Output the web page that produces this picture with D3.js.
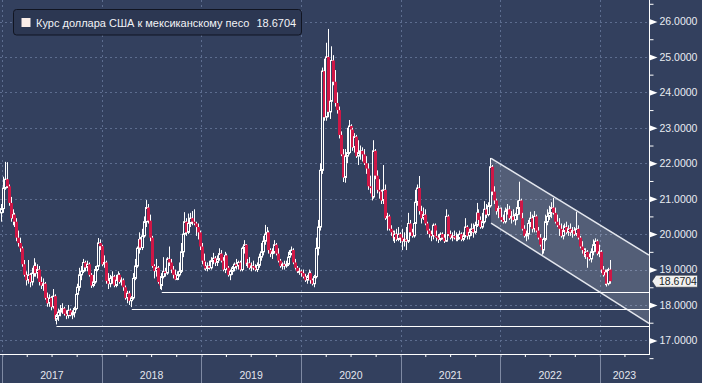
<!DOCTYPE html>
<html><head><meta charset="utf-8">
<script src="https://cdn.jsdelivr.net/npm/d3@7"></script>
<style>html,body{margin:0;padding:0;background:#33405e;overflow:hidden}svg{display:block}</style>
</head><body><svg id="c" width="702" height="383"></svg>
<script>
// ---------- DATA ----------
const firstWeek = "2016-12-26";   // Monday of the first weekly candle
// weekly candles [open, high, low, close]
const ohlc2017 = [
[20.60,20.85,20.35,20.72],[20.72,21.62,20.60,21.30],[21.30,22.04,21.25,21.55],[21.55,22.03,21.30,21.35],
[21.35,21.40,20.80,20.88],[20.88,21.05,20.35,20.45],[20.45,20.70,20.25,20.55],[20.55,20.60,20.20,20.35],
[20.35,20.45,19.80,19.90],[19.90,20.10,19.65,19.75],[19.75,19.90,19.50,19.60],[19.60,19.65,19.08,19.15],
[19.15,19.27,18.80,18.85],[18.85,18.95,18.55,18.70],[18.70,19.27,18.60,18.85],[18.85,18.90,18.50,18.65],
[18.65,19.05,18.55,18.90],[18.90,19.32,18.80,19.10],[19.10,19.20,18.80,18.90],[18.90,19.15,18.75,19.00],
[19.00,19.10,18.55,18.65],[18.65,18.80,18.45,18.55],[18.55,18.75,18.40,18.60],[18.60,18.65,18.15,18.20],
[18.20,18.35,17.95,18.05],[18.05,18.30,17.95,18.20],[18.20,18.25,17.85,17.95],[17.95,18.45,17.90,18.25],
[18.25,18.30,17.55,17.60],[17.60,17.75,17.45,17.70],[17.70,17.90,17.55,17.80],[17.80,18.00,17.68,17.85],
[17.85,18.05,17.75,17.90],[17.90,17.95,17.70,17.75],[17.75,17.85,17.60,17.70],[17.70,18.00,17.62,17.85],
[17.85,17.90,17.68,17.72],[17.72,17.85,17.60,17.78],[17.78,17.95,17.65,17.90],[17.90,18.50,17.85,18.30],
[18.30,18.60,18.20,18.50],[18.50,19.05,18.40,18.85],[18.85,19.10,18.70,18.95],[18.95,19.30,18.90,19.20],
[19.20,19.25,18.95,19.06],[19.06,19.25,18.95,19.15],[19.15,19.20,18.80,18.85],[18.85,18.90,18.48,18.55],
[18.55,18.85,18.50,18.65],[18.65,19.10,18.60,19.00],[19.00,19.30,18.95,19.10],[19.10,19.89,19.05,19.75],
[19.75,19.85,19.55,19.66]];
const ohlc2018 = [
[19.66,19.70,19.10,19.15],[19.15,19.40,19.05,19.20],[19.20,19.25,18.60,18.68],[18.68,18.90,18.45,18.60],
[18.60,18.85,18.50,18.75],[18.75,18.95,18.60,18.80],[18.80,18.85,18.50,18.55],[18.55,18.85,18.50,18.70],
[18.70,18.95,18.65,18.85],[18.85,18.90,18.60,18.65],[18.65,18.78,18.55,18.70],[18.70,18.75,18.40,18.50],
[18.50,18.55,18.15,18.20],[18.20,18.40,18.05,18.33],[18.33,18.40,18.00,18.12],[18.12,18.25,17.94,18.20],
[18.20,18.90,18.15,18.75],[18.75,19.30,18.70,19.10],[19.10,19.65,19.05,19.60],[19.60,20.05,19.45,19.85],
[19.85,19.92,19.55,19.62],[19.62,20.15,19.55,19.95],[19.95,20.50,19.90,20.35],[20.35,20.96,20.20,20.75],
[20.75,20.85,20.30,20.38],[20.38,20.55,19.80,19.90],[19.90,19.95,19.05,19.10],[19.10,19.15,18.75,18.96],
[18.96,19.30,18.80,19.05],[19.05,19.10,18.60,18.65],[18.65,18.80,18.45,18.55],[18.55,18.90,18.42,18.80],
[18.80,19.35,18.75,18.95],[18.95,19.05,18.80,18.90],[18.90,19.35,18.85,19.30],[19.30,19.65,19.10,19.20],
[19.20,19.30,18.90,19.00],[19.00,19.10,18.75,18.85],[18.85,19.00,18.70,18.72],[18.72,18.95,18.70,18.85],
[18.85,19.20,18.80,18.95],[18.95,19.75,18.90,19.50],[19.50,20.20,19.35,20.00],[20.00,20.62,19.95,20.35],
[20.35,20.45,19.95,20.05],[20.05,20.58,20.00,20.30],[20.30,20.60,20.20,20.45],[20.45,20.65,20.25,20.35],
[20.35,20.70,20.25,20.30],[20.30,20.35,19.95,20.20],[20.20,20.30,19.85,20.05],[20.05,20.10,19.55,19.65]];
const ohlc2019 = [
[19.65,19.75,19.15,19.25],[19.25,19.45,19.00,19.10],[19.10,19.22,18.97,19.03],[19.03,19.20,18.95,19.10],
[19.10,19.25,19.00,19.05],[19.05,19.35,19.00,19.25],[19.25,19.47,19.15,19.32],[19.32,19.38,19.10,19.20],
[19.20,19.40,19.10,19.30],[19.30,19.60,19.25,19.45],[19.45,19.55,19.20,19.25],[19.25,19.35,18.95,19.00],
[19.00,19.50,18.90,19.40],[19.40,19.45,19.00,19.05],[19.05,19.10,18.80,18.85],[18.85,19.00,18.70,18.95],
[18.95,19.10,18.85,19.05],[19.05,19.20,18.95,19.15],[19.15,19.30,19.00,19.10],[19.10,19.25,19.00,19.20],
[19.20,19.25,18.95,19.00],[19.00,19.65,18.95,19.60],[19.60,19.83,19.45,19.70],[19.70,19.72,19.10,19.15],
[19.15,19.30,19.05,19.18],[19.18,19.35,19.00,19.05],[19.05,19.20,18.95,19.10],[19.10,19.25,18.98,19.05],
[19.05,19.15,18.95,19.00],[19.00,19.20,18.93,19.12],[19.12,19.45,19.05,19.35],[19.35,19.75,19.25,19.50],
[19.50,19.95,19.40,19.80],[19.80,20.26,19.70,20.00],[20.00,20.20,19.85,20.05],[20.05,20.10,19.45,19.55],
[19.55,19.60,19.35,19.45],[19.45,19.60,19.30,19.50],[19.50,19.83,19.45,19.70],[19.70,19.75,19.40,19.45],
[19.45,19.60,19.20,19.25],[19.25,19.30,19.05,19.10],[19.10,19.20,19.00,19.15],[19.15,19.25,19.00,19.10],
[19.10,19.25,19.05,19.15],[19.15,19.50,19.10,19.35],[19.35,19.55,19.25,19.45],[19.45,19.65,19.40,19.55],
[19.55,19.60,19.15,19.20],[19.20,19.30,19.00,19.05],[19.05,19.10,18.90,18.95],[18.95,19.05,18.85,18.95]];
const ohlc2020 = [
[18.95,19.00,18.80,18.90],[18.90,19.00,18.75,18.80],[18.80,18.88,18.65,18.70],[18.70,18.85,18.60,18.80],
[18.80,19.00,18.70,18.90],[18.90,18.95,18.60,18.70],[18.70,18.75,18.55,18.60],[18.60,18.85,18.50,18.80],
[18.80,19.90,18.75,19.60],[19.60,20.40,19.40,20.20],[20.20,22.00,20.10,21.80],[21.80,24.70,21.70,24.60],
[24.60,24.95,23.20,23.30],[23.30,25.40,23.20,25.00],[25.00,25.79,23.30,23.45],[23.45,23.90,23.25,23.75],
[23.75,25.30,23.65,24.90],[24.90,25.05,24.20,24.30],[24.30,24.63,23.60,23.70],[23.70,24.00,23.40,23.50],
[23.50,23.60,22.70,22.80],[22.80,22.90,22.20,22.25],[22.25,22.40,21.47,21.60],[21.60,22.40,21.45,22.20],
[22.20,23.00,22.00,22.30],[22.30,23.22,22.25,23.05],[23.05,23.10,22.55,22.95],[22.95,23.00,22.35,22.45],
[22.45,22.85,22.30,22.75],[22.75,22.80,22.15,22.20],[22.20,22.65,21.95,22.30],[22.30,22.50,22.10,22.35],
[22.35,22.45,22.05,22.25],[22.25,22.40,21.95,22.00],[22.00,22.20,21.70,21.85],[21.85,22.00,21.25,21.35],
[21.35,21.65,21.15,21.30],[21.30,21.35,20.95,21.05],[21.05,22.65,21.00,22.35],[22.35,22.40,21.55,21.65],
[21.65,21.80,21.15,21.25],[21.25,21.55,21.00,21.20],[21.20,21.25,20.85,20.95],[20.95,21.95,20.85,21.25],
[21.25,21.40,20.40,20.45],[20.45,20.60,20.10,20.50],[20.50,20.55,20.10,20.15],[20.15,20.25,19.95,20.05],
[20.05,20.10,19.80,19.90],[19.90,20.10,19.75,20.00],[20.00,20.15,19.80,19.85],[19.85,20.20,19.80,20.00]];
const ohlc2021 = [
[20.00,20.05,19.75,19.90],[19.90,20.15,19.55,19.80],[19.80,20.05,19.65,19.85],[19.85,20.20,19.55,19.80],
[19.80,20.60,19.75,20.30],[20.30,20.40,19.95,20.05],[20.05,20.15,19.90,19.95],[19.95,20.35,19.90,20.30],
[20.30,21.25,20.20,20.90],[20.90,21.40,20.80,21.30],[21.30,21.64,20.55,20.65],[20.65,20.80,20.30,20.45],
[20.45,20.75,20.40,20.55],[20.55,20.70,20.25,20.30],[20.30,20.35,20.00,20.10],[20.10,20.15,19.90,20.00],
[20.00,20.10,19.80,19.95],[19.95,20.30,19.85,20.25],[20.25,20.30,19.90,19.95],[19.95,20.10,19.80,19.90],
[19.90,20.00,19.75,19.85],[19.85,20.05,19.80,20.00],[20.00,20.05,19.85,19.90],[19.90,20.00,19.75,19.80],
[19.80,20.70,19.78,20.50],[20.50,20.55,19.95,20.00],[20.00,20.10,19.85,19.90],[19.90,20.05,19.80,19.95],
[19.95,20.10,19.85,19.90],[19.90,20.05,19.80,19.85],[19.85,20.00,19.80,19.90],[19.90,20.10,19.85,20.00],
[20.00,20.05,19.80,19.85],[19.85,20.05,19.80,19.95],[19.95,20.45,19.90,20.20],[20.20,20.25,19.85,19.95],
[19.95,20.15,19.85,20.05],[20.05,20.30,19.95,20.15],[20.15,20.30,19.90,20.05],[20.05,20.35,20.00,20.25],
[20.25,20.88,20.20,20.60],[20.60,20.70,20.30,20.40],[20.40,20.50,20.15,20.20],[20.20,20.60,20.15,20.35],
[20.35,20.93,20.30,20.70],[20.70,20.85,20.45,20.55],[20.55,20.90,20.50,20.80],[20.80,22.15,20.75,21.90],
[21.90,21.95,21.10,21.20],[21.20,21.35,20.85,20.95],[20.95,21.00,20.55,20.65],[20.65,20.80,20.45,20.72]];
const ohlc2022 = [
[20.72,20.75,20.45,20.48],[20.48,20.75,20.35,20.40],[20.40,20.55,20.30,20.35],[20.35,20.75,20.30,20.65],
[20.65,20.85,20.55,20.70],[20.70,20.80,20.40,20.45],[20.45,20.65,20.30,20.50],[20.50,20.70,20.35,20.40],
[20.40,20.60,20.25,20.55],[20.55,20.95,20.40,20.75],[20.75,21.48,20.55,20.95],[20.95,21.00,20.40,20.45],
[20.45,20.60,20.10,20.15],[20.15,20.25,19.90,19.95],[19.95,20.10,19.80,20.00],[20.00,20.40,19.85,20.30],
[20.30,20.63,20.20,20.45],[20.45,20.55,20.05,20.15],[20.15,20.65,20.05,20.50],[20.50,20.55,20.05,20.10],
[20.10,20.20,19.85,19.90],[19.90,20.00,19.65,19.70],[19.70,19.80,19.42,19.55],[19.55,19.90,19.45,19.85],
[19.85,20.55,19.80,20.35],[20.35,20.70,20.25,20.50],[20.50,20.80,20.40,20.60],[20.60,20.90,20.45,20.75],
[20.75,21.02,20.55,20.60],[20.60,20.75,20.30,20.35],[20.35,20.55,20.20,20.25],[20.25,20.45,19.95,20.15],
[20.15,20.30,19.90,19.95],[19.95,20.25,19.85,20.10],[20.10,20.30,19.95,20.20],[20.20,20.35,20.00,20.05],
[20.05,20.25,19.95,20.15],[20.15,20.30,19.95,20.05],[20.05,20.20,19.90,20.10],[20.10,20.20,19.95,20.00],
[20.00,20.63,19.95,20.15],[20.15,20.25,19.85,19.90],[19.90,19.95,19.60,19.65],[19.65,19.80,19.45,19.55],
[19.55,19.60,19.35,19.40],[19.40,19.60,19.30,19.50],[19.50,19.55,19.05,19.35],[19.35,19.45,19.25,19.30],
[19.30,19.60,19.20,19.50],[19.50,19.85,19.40,19.70],[19.70,19.88,19.50,19.80],[19.80,19.85,19.40,19.45]];
const ohlc2023 = [
[19.45,19.70,19.35,19.50],[19.50,19.55,18.90,19.00],[19.00,19.10,18.80,18.85],[18.85,19.00,18.56,18.92],
[18.92,19.00,18.52,18.60],[18.60,19.05,18.55,19.00],[19.00,19.27,18.60,18.6704]];

const yTicks = [17,18,19,20,21,22,23,24,25,26];
const yMinorTicks = [16.5,17.5,18.5,19.5,20.5,21.5,22.5,23.5,24.5,25.5,26.5];
const yearLabels = ["2017","2018","2019","2020","2021","2022","2023"];
const axisStart = "2016-12-24", axisEnd = "2023-06-30";
// horizontal support levels (start date, level)
const supportStarts = ["2017-07-19","2018-04-21","2018-08-09"];
const supportLevels = [17.42, 17.90, 18.38];
// descending channel
const channelDates = ["2021-11-28","2023-06-30"];
const channelUpper = [22.14, 19.41];
const channelLower = [20.31, 17.48];
const seriesName = "Курс доллара США к мексиканскому песо";
const lastPrice = 18.6704;

// ---------- DRAW ----------
const BG = "#33405e", GRID = "#5d6d8f", RED = "#cf1746";
const plotR = 649, plotB = 354;
const parse = d3.utcParse("%Y-%m-%d");
const svg = d3.select("#c");
svg.append("rect").attr("width",702).attr("height",383).attr("fill",BG);

const x = d3.scaleUtc().domain([parse(axisStart), parse(axisEnd)]).range([0, plotR]);
const y = d3.scaleLinear().domain([16.6, 26.6]).range([354.6, 0.24]);

const start = parse(firstWeek);
const data = [].concat(ohlc2017, ohlc2018, ohlc2019, ohlc2020, ohlc2021, ohlc2022, ohlc2023)
  .map((d,i)=>({date:d3.utcDay.offset(start, 7*i+2), o:d[0], h:d[1], l:d[2], c:d[3]}));

svg.append("clipPath").attr("id","clip").append("rect").attr("x",0).attr("y",0).attr("width",plotR).attr("height",plotB);

// grid
const grid = svg.append("g").attr("stroke",GRID).attr("stroke-dasharray","2,3").attr("stroke-width",1);
grid.selectAll("line.h").data(yTicks).join("line").attr("class","h")
  .attr("x1",0).attr("x2",plotR).attr("y1",d=>Math.round(y(d))+0.5).attr("y2",d=>Math.round(y(d))+0.5);
const yearStarts = yearLabels.map(s=>parse(s+"-01-01"));
grid.selectAll("line.v").data(yearStarts).join("line").attr("class","v")
  .attr("y1",0).attr("y2",plotB).attr("x1",d=>Math.round(x(d))+0.5).attr("x2",d=>Math.round(x(d))+0.5);

const plot = svg.append("g").attr("clip-path","url(#clip)");

// channel
const cx0 = x(parse(channelDates[0])), cx1 = x(parse(channelDates[1]));
plot.append("path")
  .attr("d",`M${cx0},${y(channelUpper[0])}L${cx1},${y(channelUpper[1])}L${cx1},${y(channelLower[1])}L${cx0},${y(channelLower[0])}Z`)
  .attr("fill","rgba(255,255,255,0.16)");

// candles
const cg = plot.append("g");
data.forEach(d=>{
  const xc = Math.round(x(d.date));
  cg.append("line").attr("x1",xc+0.5).attr("x2",xc+0.5).attr("y1",y(d.h)).attr("y2",y(d.l))
    .attr("stroke","#ffffff").attr("stroke-width",1);
  const top = y(Math.max(d.o,d.c)), bot = y(Math.min(d.o,d.c));
  if (d.c >= d.o) {
    cg.append("rect").attr("x",xc-0.5).attr("width",2).attr("y",top).attr("height",Math.max(1,bot-top))
      .attr("fill",BG).attr("stroke","#ffffff").attr("stroke-width",1);
  } else {
    cg.append("rect").attr("x",xc-1).attr("width",3).attr("y",top).attr("height",Math.max(1,bot-top))
      .attr("fill",RED);
  }
});

// channel lines
plot.append("line").attr("x1",cx0).attr("x2",cx1).attr("y1",y(channelUpper[0])).attr("y2",y(channelUpper[1]))
  .attr("stroke","#e4e7ee").attr("stroke-width",1.5);
plot.append("line").attr("x1",cx0).attr("x2",cx1).attr("y1",y(channelLower[0])).attr("y2",y(channelLower[1]))
  .attr("stroke","#e4e7ee").attr("stroke-width",1.5);

// support levels
plot.selectAll("line.sup").data(supportLevels).join("line").attr("class","sup")
  .attr("x1",(d,i)=>x(parse(supportStarts[i]))).attr("x2",plotR)
  .attr("y1",d=>Math.round(y(d))+0.5).attr("y2",d=>Math.round(y(d))+0.5)
  .attr("stroke","#ffffff").attr("stroke-width",1.2);

// axes lines
svg.append("line").attr("x1",plotR+0.5).attr("x2",plotR+0.5).attr("y1",0).attr("y2",plotB+0.5).attr("stroke","#fff");
svg.append("line").attr("x1",0).attr("x2",plotR+1).attr("y1",plotB+0.5).attr("y2",plotB+0.5).attr("stroke","#fff");

const FONT = "'Liberation Sans', Arial, sans-serif";
// right axis
const ay = svg.append("g").attr("transform",`translate(${plotR+0.5},0)`)
  .call(d3.axisRight(y).tickValues(yTicks).tickSize(0).tickPadding(10).tickFormat(d3.format(".4f")));
ay.select(".domain").remove();
ay.selectAll("text").attr("fill","#e9ecf2").style("font-family",FONT).style("font-size","10.5px");
ay.selectAll(".tick").append("path").attr("d","M0,-3L8,0L0,3Z").attr("fill","#fff");
const aym = svg.append("g").attr("transform",`translate(${plotR+0.5},0)`)
  .call(d3.axisRight(y).tickValues(yMinorTicks).tickSize(4).tickFormat(""));
aym.select(".domain").remove();
aym.selectAll("line").attr("stroke","#fff");

// bottom axis: quarter ticks
const quarters = d3.utcMonth.every(3).range(parse("2017-01-01"), parse(axisEnd));
const ax = svg.append("g").attr("transform",`translate(0,${plotB})`)
  .call(d3.axisBottom(x).tickValues(quarters).tickSize(3).tickFormat(""));
ax.select(".domain").remove();
ax.selectAll("line").attr("stroke","#fff");
// year separators
svg.selectAll("line.ysep").data(yearStarts).join("line").attr("class","ysep")
  .attr("x1",d=>Math.round(x(d))+0.5).attr("x2",d=>Math.round(x(d))+0.5)
  .attr("y1",plotB+1).attr("y2",383).attr("stroke","#7f8aa3");
// year labels
svg.selectAll("text.yl").data(yearLabels).join("text").attr("class","yl")
  .attr("x",(d,i)=>{const a=x(yearStarts[i]); const b=Math.min(plotR, x(parse((+d+1)+"-01-01"))); return (a+b)/2;})
  .attr("y",379).attr("text-anchor","middle").attr("fill","#e3e6ee")
  .style("font-family",FONT).style("font-size","10.5px").text(d=>d);

// price tag
const py = y(lastPrice);
svg.append("path").attr("d",`M${plotR+3},${py}L${plotR+7},${py-6}L697.5,${py-6}L697.5,${py+6}L${plotR+7},${py+6}Z`)
  .attr("fill","#f1f1f1").attr("stroke","#2a2f3a").attr("stroke-width",0.6);
svg.append("text").attr("x",659).attr("y",py).attr("dy","0.35em").attr("fill","#1c1f26")
  .style("font-family",FONT).style("font-size","10.5px").text(d3.format(".4f")(lastPrice));

// legend
svg.append("rect").attr("x",13.5).attr("y",9.5).attr("width",288).attr("height",25.5).attr("rx",3)
  .attr("fill","#2c3752").attr("stroke","#111522");
svg.append("rect").attr("x",21.5).attr("y",18).attr("width",9).attr("height",9).attr("fill","#fbeee9");
const lt = svg.append("text").attr("x",36).attr("y",27).attr("fill","#f2f3f6")
  .style("font-family",FONT).style("font-size","11px");
lt.append("tspan").text(seriesName);
lt.append("tspan").attr("dx",7).text(d3.format(".4f")(lastPrice));
</script></body></html>
